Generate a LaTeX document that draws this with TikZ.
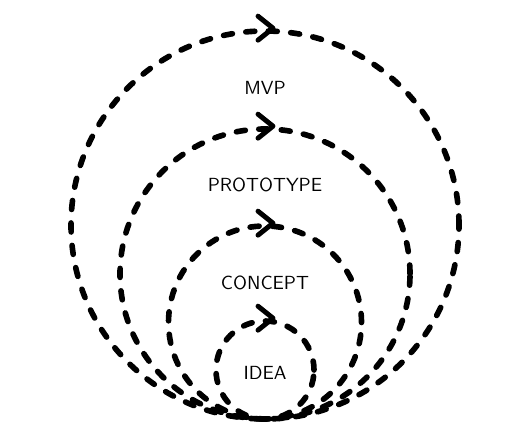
\documentclass[tikz,border=0pt]{standalone}
\usetikzlibrary{positioning}
\begin{document}
\begin{tikzpicture}[
  ring/.style={circle,draw,line width=3.2pt,line cap=round,dash pattern=on 0.18cm off 0.27cm,inner sep=0pt},
  chev/.style={line width=2.8pt,line cap=round,line join=round},
  word/.style={font=\sffamily\fontsize{10.8}{13}\selectfont}]
\useasboundingbox (0,0) rectangle (10.6,8.84);

\node[ring,minimum size=7.76cm] (mvp) at (5.3,4.34) {};
\node[ring,minimum size=5.80cm] (proto) at (5.3,3.36) {};
\node[ring,minimum size=3.86cm] (concept) at (5.3,2.39) {};
\node[ring,minimum size=1.96cm] (idea) at (5.3,1.44) {};

\foreach \c in {mvp,proto,concept,idea}
  \draw[chev] ([shift={(-0.14,0.24)}]\c.north) -- ([shift={(0.16,0)}]\c.north) -- ([shift={(-0.14,-0.24)}]\c.north);

\node[word] (lmvp) at (5.3,7.08) {MVP};
\node[word] (lproto) at (5.3,5.14) {PROTOTYPE};
\node[word] (lconcept) at (5.3,3.18) {CONCEPT};
\node[word] (lidea) at (5.3,1.38) {IDEA};
\end{tikzpicture}
\end{document}
